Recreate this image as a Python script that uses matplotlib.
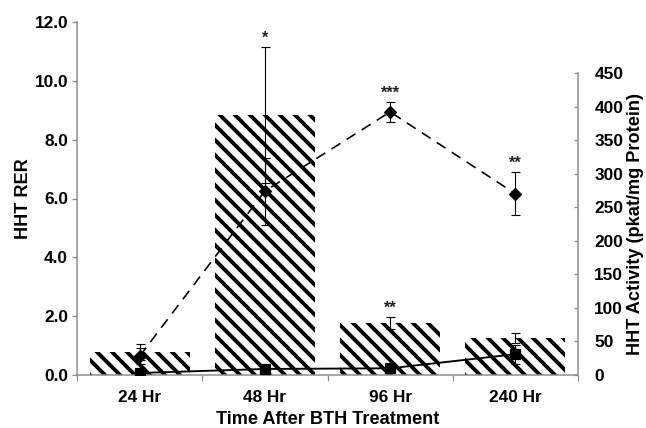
import matplotlib
matplotlib.use("Agg")
import matplotlib.pyplot as plt
import numpy as np

# data
categories = ['24 Hr', '48 Hr', '96 Hr', '240 Hr']
rer = [0.78, 8.84, 1.77, 1.26]
rer_err = [0.28, 2.30, 0.20, 0.17]
activity = [28, 274, 392, 270]
activity_err = [12, 50, 15, 32]
activity2 = [3, 9, 10, 31]
activity2_err = [0, 0, 0, 14]
rer_marks = ['', '*', '**', '']
activity_marks = ['', '', '***', '**']

DPI = 90
W, H = 646, 428
plt.rcParams['font.family'] = ['Liberation Sans', 'DejaVu Sans']
plt.rcParams['font.weight'] = 'bold'
plt.rcParams['hatch.linewidth'] = 3.1
plt.rcParams['hatch.color'] = 'black'

fig = plt.figure(figsize=(W / DPI, H / DPI), dpi=DPI)
ax = fig.add_axes([77 / W, (H - 375) / H, (578 - 77) / W, (375 - 22) / H])
ax2 = ax.twinx()

x = np.arange(len(categories))
grey = '#8c8c8c'

# bars: HHT RER on the left axis
ax.bar(x, rer, width=0.8, color='white', edgecolor='black', linewidth=0,
       hatch='\\\\', zorder=2)
ax.errorbar(x, rer, yerr=rer_err, fmt='none', ecolor='black', elinewidth=0.9,
            capsize=3.6, capthick=0.9, zorder=3)

ax.set_xlim(-0.5, len(categories) - 0.5)
ax.set_ylim(0, 12)
ax.set_yticks(np.arange(0, 12.1, 2))
ax.set_yticklabels([f"{v:.1f}" for v in np.arange(0, 12.1, 2)])
ax.set_xticks(np.arange(-0.5, len(categories), 1))
ax.set_xticklabels([])
ax.set_xticks(x, minor=True)
ax.set_xticklabels(categories, minor=True)
ax.tick_params(axis='x', which='major', length=5, width=1, color=grey, direction='out')
ax.tick_params(axis='x', which='minor', length=0, pad=12, labelsize=13.8)
ax.tick_params(axis='y', length=4, width=1, color=grey, direction='out', pad=3,
               labelsize=13.8)
for s in ['top', 'right']:
    ax.spines[s].set_visible(False)
for s in ['left', 'bottom']:
    ax.spines[s].set_color(grey)
    ax.spines[s].set_linewidth(1.2)
ax.set_ylabel('HHT RER', fontsize=14.5, fontweight='bold')
ax.yaxis.set_label_coords(-0.09, 0.5)
ax.set_xlabel('Time After BTH Treatment', fontsize=14.5, fontweight='bold', labelpad=5)

for xi, top, m in zip(x, np.add(rer, rer_err), rer_marks):
    if m:
        ax.annotate(m, (xi, top), xytext=(0, 1), textcoords='offset points',
                    ha='center', va='bottom', fontsize=13, color='#222222')

# lines: HHT activity on the right axis
ax2.errorbar(x, activity2, yerr=activity2_err, fmt='s-', color='black', ms=8,
             lw=1.5, elinewidth=0.9, capsize=3.6, capthick=0.9, zorder=4)
ax2.errorbar(x, activity, yerr=activity_err, fmt='D', color='black', ms=6.8,
             elinewidth=0.9, capsize=3.6, capthick=0.9, zorder=5)
ax2.plot(x, activity, color='black', lw=1.3, linestyle=(0, (6.5, 4.5)), zorder=4)

ax2.set_ylim(0, 450 * 353 / 302)
ax2.set_yticks(np.arange(0, 451, 50))
ax2.spines['right'].set_bounds(0, 450)
ax2.spines['right'].set_color(grey)
ax2.spines['right'].set_linewidth(1.2)
for s in ['top', 'left', 'bottom']:
    ax2.spines[s].set_visible(False)
ax2.tick_params(axis='y', length=3, width=1, color=grey, direction='in', pad=13,
                labelsize=13.8)
ax2.set_ylabel('HHT Activity (pkat/mg Protein)', fontsize=14.5, fontweight='bold')
ax2.yaxis.set_label_coords(1.098, 0.5 * 302 / 353)

for xi, top, m in zip(x, np.add(activity, activity_err), activity_marks):
    if m:
        ax2.annotate(m, (xi, top), xytext=(0, 1), textcoords='offset points',
                     ha='center', va='bottom', fontsize=13, color='#222222')

fig.savefig('out.png', dpi=DPI)
